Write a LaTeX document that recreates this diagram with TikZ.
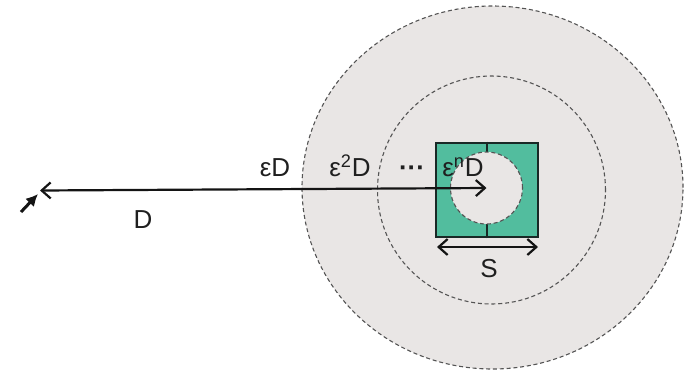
\documentclass[tikz,border=0pt]{standalone}
\usepackage{fontspec}
\setmainfont{Liberation Sans}
\usetikzlibrary{arrows,arrows.meta,shapes}

\begin{document}
\begin{tikzpicture}[x=0.5pt,y=-0.5pt,
  ring/.style={circle,draw=cring,fill=cfring,line width=0.55pt,dash pattern=on 2pt off 1.4pt,inner sep=0pt},
  lbl/.style={anchor=base,text=clbl,font=\fontsize{13}{15}\selectfont},
  dim/.style={{Straight Barb[length=4.5pt,width=8pt]}-{Straight Barb[length=4.5pt,width=8pt]},line width=1.1pt,draw=cdim}]
%
\useasboundingbox (0,0) rectangle (687,371);
%
\definecolor{cring}{rgb}{0.33,0.33,0.33}
\definecolor{cfring}{rgb}{0.914,0.902,0.898}
\definecolor{csq}{rgb}{0.10,0.16,0.15}
\definecolor{cfsq}{rgb}{0.32,0.74,0.62}
\definecolor{cdim}{rgb}{0.08,0.08,0.08}
\definecolor{clbl}{rgb}{0.12,0.12,0.12}
%
\node[ring,ellipse,minimum width=190.5pt,minimum height=181.5pt] (ring0) at (492.5,187.5) {};
\node[ring,minimum size=114pt] (ring1) at (491.5,190) {};
\node[rectangle,draw=csq,fill=cfsq,line width=1.3pt,minimum width=51pt,minimum height=47pt,inner sep=0pt] (sq) at (487,190) {};
\draw[line width=1.3pt,draw=csq] (sq.north) -- ++(0,20);
\draw[line width=1.3pt,draw=csq] (sq.south) -- ++(0,-20);
\node[ring,minimum size=36pt] (hole) at (486.5,188) {};
%
\coordinate (dL) at (40,190.5);
\coordinate (sL) at (437,247);
\coordinate (sR) at (538,247);
\coordinate (pT) at (21,212);
\coordinate (pH) at (38,194);
%
\draw[dim] (dL) -- (hole.center);
\draw[dim] (sL) -- (sR);
\draw[-{Latex[length=6pt,width=6pt]},line width=1.5pt,draw=cdim] (pT) -- (pH);
%
\node[lbl] (eD) at (275,176) {ε{}D};
\node[lbl] (e2D) at (350,176) {ε\textsuperscript{2}D};
\node[lbl] (dots) at (412,176) {\textbf{···}};
\node[lbl] (enD) at (463,176) {ε\textsuperscript{n}D};
\node[lbl] (D) at (143,228) {D};
\node[lbl] (S) at (489,277) {S};
%
\end{tikzpicture}
\end{document}
